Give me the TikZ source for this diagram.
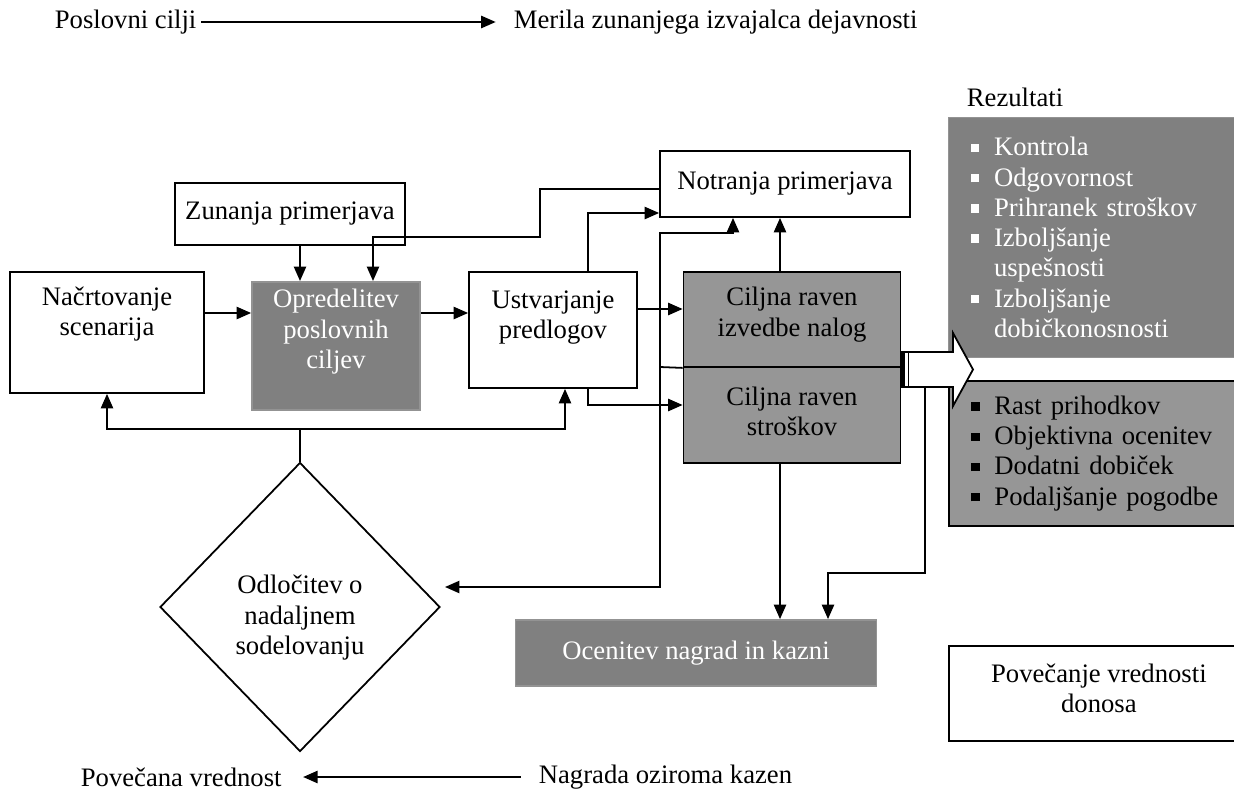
\documentclass[tikz,border=0pt]{standalone}
\usepackage{fontspec}
\setmainfont{Liberation Serif}
\usepackage{xcolor}
\usepackage{tikz}
\usetikzlibrary{shapes.geometric,arrows.meta,positioning,calc}

\definecolor{darkgrey}{RGB}{128,128,128}
\definecolor{lightgrey}{RGB}{150,150,150}
\newcommand{\unitpx}{0.45pt}
\newcommand{\blt}{\makebox[10.5pt][l]{\rule[0.3ex]{3.8pt}{3.8pt}}}

\begin{document}
\begin{tikzpicture}[x=0.45pt, y=-0.45pt,
    font=\fontsize{12}{13.6}\selectfont,
    box/.style={rectangle, draw, line width=0.8pt, fill=white, align=center},
    darkstep/.style={box, draw=darkgrey!85!white, fill=darkgrey, text=white},
    lightstep/.style={box, fill=lightgrey},
    decision/.style={diamond, draw, line width=0.8pt, fill=white, align=center, inner sep=0pt},
    results/.style={rectangle, anchor=north west, align=left, text width=118pt, inner xsep=10pt, inner ysep=0pt},
    label/.style={inner sep=2pt},
    arr/.style={-{Triangle[length=6.5pt,width=5.5pt]}, line width=0.8pt},
    line/.style={line width=0.8pt}
]
    \useasboundingbox (0,0) rectangle (1234,802);

    % Top and bottom labels
    \node[label, anchor=west] (goals) at (50,22) {Poslovni cilji};
    \node[label, anchor=west] (metrics) at (509,22) {Merila zunanjega izvajalca dejavnosti};
    \node[label, anchor=west] (value) at (76,777) {Povečana vrednost};
    \node[label, anchor=west] (reward) at (534,777) {Nagrada oziroma kazen};

    % Process boxes
    \node[box, minimum width=230*\unitpx, minimum height=62*\unitpx] (ext) at (290,214) {Zunanja primerjava};
    \node[box, minimum width=250*\unitpx, minimum height=66*\unitpx] (int) at (785,184) {Notranja primerjava};
    \node[box, minimum width=194*\unitpx, minimum height=121*\unitpx, text depth=19pt] (plan) at (107,332.5) {Načrtovanje\\scenarija};
    \node[darkstep, minimum width=168*\unitpx, minimum height=118*\unitpx, text depth=15.5pt] (goal) at (336,346) {Opredelitev\\poslovnih\\ciljev};
    \node[box, minimum width=168*\unitpx, minimum height=116*\unitpx, text depth=14pt] (prop) at (553,330) {Ustvarjanje\\predlogov};
    \node[lightstep, minimum width=217*\unitpx, minimum height=95*\unitpx, text depth=7pt] (perf) at (792,319.5) {Ciljna raven\\izvedbe nalog};
    \node[lightstep, minimum width=217*\unitpx, minimum height=96*\unitpx, text depth=3.5pt] (cost) at (792,415) {Ciljna raven\\stroškov};
    \node[decision, minimum width=280*\unitpx, minimum height=289*\unitpx] (dec) at (300,607) {\rule{0pt}{18pt}Odločitev o\\nadaljnem\\sodelovanju};
    \node[darkstep, minimum width=361*\unitpx, minimum height=66*\unitpx] (eval) at (696,653) {Ocenitev nagrad in kazni};
    \node[box, anchor=north west, minimum width=300*\unitpx, minimum height=95*\unitpx, text depth=5pt] (ret) at (948,645) {Povečanje vrednosti\\donosa};

    % Results
    \node[label, anchor=west] (reslabel) at (962,97) {Rezultati};
    \node[results, draw=darkgrey!85!white, fill=darkgrey, text=white, minimum height=240*\unitpx] (res1) at (948,117)
        {\blt Kontrola\\ \blt Odgovornost\\ \blt Prihranek stroškov\\ \blt Izboljšanje\\ \hspace*{10.5pt}uspešnosti\\ \blt Izboljšanje\\ \hspace*{10.5pt}dobičkonosnosti};
    \node[results, draw, line width=0.8pt, fill=lightgrey, minimum height=145*\unitpx] (res2) at (948,380)
        {\blt Rast prihodkov\\ \blt Objektivna ocenitev\\ \blt Dodatni dobiček\\ \blt Podaljšanje pogodbe};

    % Block arrow
    \draw[line, fill=white] (901,352) -- (953,352) -- (953,333) -- (973,369.5) -- (953,406) -- (953,387) -- (901,387) -- cycle;
    \draw[line width=1.6pt] (903,352) -- (903,387);
    \draw[line] (908.5,352) -- (908.5,387);
    \coordinate (blocktail) at (925,387);
    \coordinate (dectip) at (445,587);

    % Connections
    \draw[arr, shorten >=6pt] (goals) -- (metrics);
    \draw[arr, shorten <=6pt, shorten >=7.5pt] (reward) -- (value);
    \draw[arr] (ext.south -| dec.north) -- (goal.north -| dec.north);
    \draw[arr] (plan.east |- 0,313) -- (goal.west |- 0,313);
    \draw[arr] (goal.east |- 0,313) -- (prop.west |- 0,313);
    \draw[arr] (int.west |- 0,189) -- (540,189) -- (540,237) -- (373,237) -- (goal.north -| 373,0);
    \draw[arr] (prop.north -| 588,0) -- (588,213) -- (int.west |- 0,213);
    \draw[arr] (prop.east |- 0,309) -- (perf.west |- 0,309);
    \draw[arr] (prop.south -| 588,0) -- (588,405) -- (cost.west |- 0,405);
    \draw[arr] (perf.north -| 780,0) -- (int.south -| 780,0);
    \draw[arr] (cost.south -| 780,0) -- (eval.north -| 780,0);
    \draw[arr] (perf.south west) -- (660,367) -- (660,233) -- (733,233) -- (int.south -| 733,0);
    \draw[arr] (660,367) -- (660,587) -- (dectip);
    \draw[arr] (blocktail) -- (925,573) -- (828,573) -- (eval.north -| 828,0);

    % Feedback
    \draw[arr] (dec.north) -- (300,429) -| (plan.south);
    \draw[arr] (300,429) -| (prop.south -| 565,0);
\end{tikzpicture}
\end{document}
